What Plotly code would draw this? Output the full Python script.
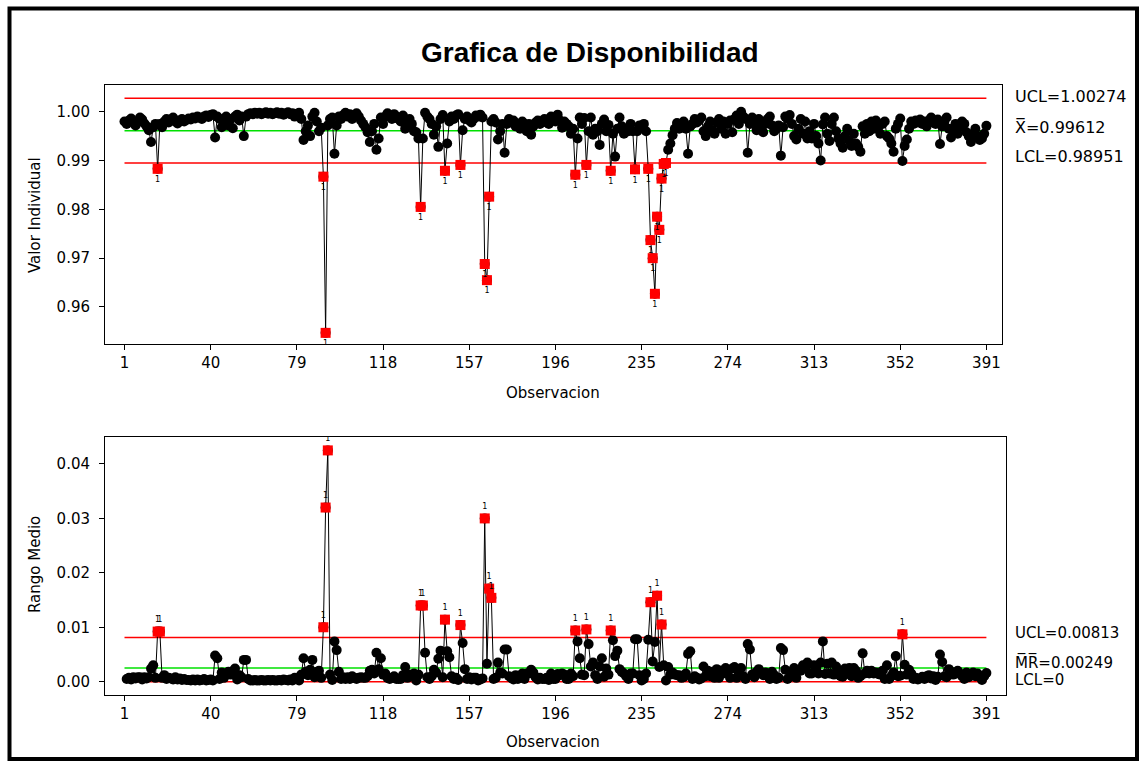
import plotly.graph_objects as go

# ---------------- data ----------------
valor = [
    0.9980, 0.9975, 0.9982, 0.9986, 0.9978, 0.9972, 0.9980, 0.9988, 0.9984, 0.9976,
    0.9970, 0.9962, 0.9938, 0.9968, 0.9975, 0.9883, 0.9975, 0.9968, 0.9980, 0.9985,
    0.9978, 0.9984, 0.9988, 0.9980, 0.9976, 0.9982, 0.9985, 0.9980, 0.9983, 0.9986,
    0.9984, 0.9988, 0.9986, 0.9990, 0.9988, 0.9985, 0.9990, 0.9992, 0.9989, 0.9993,
    0.9995, 0.9947, 0.9990, 0.9985, 0.9968, 0.9975, 0.9990, 0.9972, 0.9985, 0.9966,
    0.9990, 0.9994, 0.9982, 0.9990, 0.9950, 0.9990, 0.9995, 0.9997, 0.9995, 0.9998,
    0.9996, 0.9998, 0.9995, 0.9997, 0.9999, 0.9996, 0.9998, 0.9995, 0.9997, 0.9999,
    0.9996, 0.9998, 0.9994, 0.9997, 0.9999, 0.9995, 0.9997, 0.9990, 0.9996, 0.9998,
    0.9985, 0.9942, 0.9960, 0.9972, 0.9950, 0.9990, 0.9998, 0.9980, 0.9960, 0.9967,
    0.9867, 0.9547, 0.9972, 0.9985, 0.9988, 0.9914, 0.9972, 0.9990, 0.9985, 0.9993,
    0.9998, 0.9990, 0.9995, 0.9985, 0.9992, 0.9997, 0.9990, 0.9982, 0.9975, 0.9968,
    0.9958, 0.9938, 0.9960, 0.9975, 0.9922, 0.9945, 0.9988, 0.9975, 0.9990, 0.9997,
    0.9992, 0.9985, 0.9995, 0.9990, 0.9985, 0.9980, 0.9992, 0.9965, 0.9972, 0.9985,
    0.9975, 0.9960, 0.9958, 0.9945, 0.9805, 0.9945, 0.9998, 0.9990, 0.9985, 0.9975,
    0.9953, 0.9970, 0.9928, 0.9985, 0.9993, 0.9879, 0.9935, 0.9980, 0.9990, 0.9985,
    0.9992, 0.9995, 0.9891, 0.9962, 0.9985, 0.9990, 0.9982, 0.9978, 0.9985, 0.9992,
    0.9990, 0.9994, 0.9988, 0.9688, 0.9655, 0.9826, 0.9980, 0.9985, 0.9978, 0.9943,
    0.9960, 0.9975, 0.9916, 0.9975, 0.9985, 0.9978, 0.9982, 0.9970, 0.9975, 0.9965,
    0.9980, 0.9975, 0.9960, 0.9975, 0.9953, 0.9970, 0.9978, 0.9982, 0.9975, 0.9980,
    0.9985, 0.9978, 0.9975, 0.9990, 0.9985, 0.9980, 0.9994, 0.9982, 0.9967, 0.9980,
    0.9975, 0.9970, 0.9955, 0.9965, 0.9871, 0.9945, 0.9988, 0.9975, 0.9987, 0.9891,
    0.9960, 0.9988, 0.9953, 0.9965, 0.9960, 0.9932, 0.9975, 0.9984, 0.9960, 0.9973,
    0.9879, 0.9955, 0.9908, 0.9965, 0.9988, 0.9970, 0.9955, 0.9965, 0.9960, 0.9975,
    0.9960, 0.9882, 0.9960, 0.9972, 0.9970, 0.9975, 0.9960, 0.9883, 0.9737, 0.9700,
    0.9627, 0.9785, 0.9758, 0.9863, 0.9893, 0.9895, 0.9922, 0.9935, 0.9952, 0.9965,
    0.9977, 0.9965, 0.9972, 0.9980, 0.9965, 0.9914, 0.9970, 0.9975, 0.9985, 0.9978,
    0.9982, 0.9988, 0.9960, 0.9950, 0.9970, 0.9980, 0.9962, 0.9955, 0.9978, 0.9985,
    0.9965, 0.9980, 0.9955, 0.9975, 0.9982, 0.9958, 0.9985, 0.9992, 0.9975, 1.0000,
    0.9990, 0.9985, 0.9916, 0.9975, 0.9988, 0.9980, 0.9962, 0.9985, 0.9970, 0.9958,
    0.9975, 0.9985, 0.9990, 0.9972, 0.9960, 0.9965, 0.9972, 0.9910, 0.9968, 0.9990,
    0.9985, 0.9993, 0.9975, 0.9950, 0.9943, 0.9965, 0.9985, 0.9955, 0.9980, 0.9945,
    0.9960, 0.9945, 0.9975, 0.9950, 0.9935, 0.9900, 0.9974, 0.9988, 0.9955, 0.9940,
    0.9975, 0.9988, 0.9960, 0.9945, 0.9935, 0.9926, 0.9950, 0.9965, 0.9940, 0.9930,
    0.9955, 0.9935, 0.9928, 0.9918, 0.9970, 0.9955, 0.9975, 0.9960, 0.9980, 0.9965,
    0.9982, 0.9968, 0.9955, 0.9975, 0.9980, 0.9950, 0.9945, 0.9935, 0.9918, 0.9965,
    0.9975, 0.9986, 0.9899, 0.9930, 0.9943, 0.9965, 0.9980, 0.9975, 0.9982, 0.9978,
    0.9984, 0.9975, 0.9980, 0.9970, 0.9982, 0.9988, 0.9978, 0.9975, 0.9984, 0.9934,
    0.9970, 0.9980, 0.9988, 0.9965, 0.9947, 0.9960, 0.9975, 0.9955, 0.9970, 0.9980,
    0.9975, 0.9958, 0.9950, 0.9938, 0.9955, 0.9965, 0.9950, 0.9942, 0.9945, 0.9955, 0.9971,
]
observacion = list(range(1, len(valor) + 1))

ucl_i, cl_i, lcl_i = 1.00274, 0.99612, 0.98951
ucl_mr, cl_mr, lcl_mr = 0.00813, 0.00249, 0.0

x_ticks = [1, 40, 79, 118, 157, 196, 235, 274, 313, 352, 391]
y_ticks_i = [0.96, 0.97, 0.98, 0.99, 1.00]
y_ticks_mr = [0.00, 0.01, 0.02, 0.03, 0.04]

title = "Grafica de Disponibilidad"
label_i = ["UCL=1.00274", "X\u0305=0.99612", "LCL=0.98951"]
label_mr = ["UCL=0.00813", "M\u0305R\u0305=0.00249", "LCL=0"]

# moving range (|x_i - x_{i-1}|)
mr_x = observacion[1:]
mr_y = [abs(valor[i] - valor[i - 1]) for i in range(1, len(valor))]

# out of control points
red_i = [(o, v) for o, v in zip(observacion, valor) if v < lcl_i or v > ucl_i]
red_mr = [(o, v) for o, v in zip(mr_x, mr_y) if v > ucl_mr]

# ---------------- layout helpers ----------------
W, H = 1142, 763
def fx(p):
    return p / W
def fy(p):
    return 1 - p / H

FONT = "DejaVu Sans"
k = 2.21  # px per observation
x0px = 124.5

fig = go.Figure()

# ---- top chart: individuals ----
for yv, col in [(ucl_i, "#ff0000"), (cl_i, "#00e000"), (lcl_i, "#ff0000")]:
    fig.add_trace(go.Scatter(x=[1, 391], y=[yv, yv], mode="lines",
                             line=dict(color=col, width=1.5),
                             xaxis="x", yaxis="y", hoverinfo="skip"))
fig.add_trace(go.Scatter(x=observacion, y=valor, mode="lines+markers",
                         line=dict(color="black", width=1),
                         marker=dict(color="black", size=10, symbol="circle"),
                         xaxis="x", yaxis="y"))
fig.add_trace(go.Scatter(x=[p[0] for p in red_i], y=[p[1] for p in red_i],
                         mode="markers+text", text=["1"] * len(red_i),
                         textposition="bottom center",
                         textfont=dict(family=FONT, size=8, color="black"),
                         marker=dict(color="#ff0000", size=10, symbol="square"),
                         xaxis="x", yaxis="y"))

# ---- bottom chart: moving range ----
for yv, col in [(ucl_mr, "#ff0000"), (cl_mr, "#00e000"), (lcl_mr, "#ff0000")]:
    fig.add_trace(go.Scatter(x=[1, 391], y=[yv, yv], mode="lines",
                             line=dict(color=col, width=1.5),
                             xaxis="x2", yaxis="y2", hoverinfo="skip"))
fig.add_trace(go.Scatter(x=mr_x, y=mr_y, mode="lines+markers",
                         line=dict(color="black", width=1),
                         marker=dict(color="black", size=10, symbol="circle"),
                         xaxis="x2", yaxis="y2"))
fig.add_trace(go.Scatter(x=[p[0] for p in red_mr], y=[p[1] for p in red_mr],
                         mode="markers+text", text=["1"] * len(red_mr),
                         textposition="top center",
                         textfont=dict(family=FONT, size=8, color="black"),
                         marker=dict(color="#ff0000", size=10, symbol="square"),
                         xaxis="x2", yaxis="y2"))

axis_common = dict(showline=True, mirror=True, linecolor="black", linewidth=1,
                   ticks="outside", ticklen=5, tickcolor="black", tickwidth=1,
                   showgrid=False, zeroline=False,
                   tickfont=dict(family=FONT, size=15, color="black"))

fig.update_layout(
    width=W, height=H, margin=dict(l=0, r=0, t=0, b=0),
    paper_bgcolor="white", plot_bgcolor="white", showlegend=False,
    xaxis=dict(domain=[fx(105), fx(1002)],
               range=[1 - (x0px - 105) / k, 1 + (1002 - x0px) / k],
               tickmode="array", tickvals=x_ticks, anchor="y", **axis_common),
    yaxis=dict(domain=[fy(344), fy(85)], range=[0.95242, 1.00547],
               tickmode="array", tickvals=y_ticks_i, tickformat=".2f",
               anchor="x", ticklabelstandoff=6, **axis_common),
    xaxis2=dict(domain=[fx(105), fx(1006)],
                range=[1 - (x0px - 105) / k, 1 + (1006 - x0px) / k],
                tickmode="array", tickvals=x_ticks, anchor="y2", **axis_common),
    yaxis2=dict(domain=[fy(695), fy(437)], range=[-0.00245, 0.04496],
                tickmode="array", tickvals=y_ticks_mr, tickformat=".2f",
                anchor="x2", ticklabelstandoff=6, **axis_common),
)

ann = []
def text(x, y, s, size=16, anchor="center", angle=0, bold=False):
    ann.append(dict(x=fx(x), y=fy(y), xref="paper", yref="paper", text=s,
                    showarrow=False, xanchor=anchor, yanchor="middle",
                    textangle=angle,
                    font=dict(family="Liberation Sans" if bold else FONT,
                              size=size, color="black")))

text(590, 52, "<b>" + title + "</b>", size=28, bold=True)
text(35, 215, "Valor Individual", size=15, angle=-90)
text(553, 393, "Observacion", size=15)
text(35, 565, "Rango Medio", size=15, angle=-90)
text(553, 742, "Observacion", size=15)
for s, yy in zip(label_i, [97, 128, 157]):
    text(1013, yy, s, size=16, anchor="left")
for s, yy in zip(label_mr, [633, 662, 680]):
    text(1013, yy, s, size=15, anchor="left")
fig.update_layout(annotations=ann)

fig.add_shape(type="rect", xref="paper", yref="paper",
              x0=fx(9.5), x1=fx(1137), y0=fy(759), y1=fy(8.5),
              line=dict(color="black", width=4))

fig.write_html("out.html")
